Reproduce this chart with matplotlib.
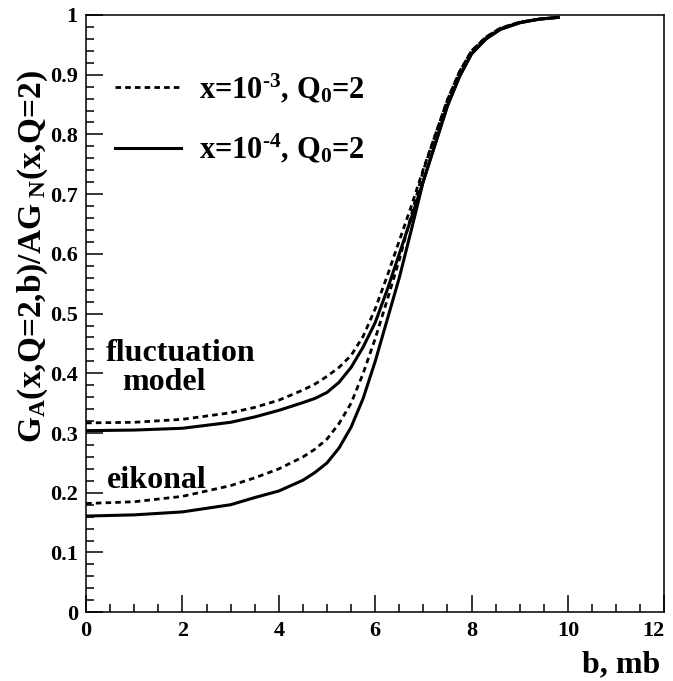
import matplotlib
matplotlib.use("Agg")
import matplotlib.pyplot as plt
from matplotlib.ticker import MultipleLocator

plt.rcParams['font.family'] = ['Liberation Serif', 'DejaVu Serif']
plt.rcParams['font.weight'] = 'bold'
plt.rcParams['mathtext.fontset'] = 'custom'
plt.rcParams['mathtext.rm'] = 'Liberation Serif:bold'
plt.rcParams['mathtext.it'] = 'Liberation Serif:bold'
plt.rcParams['mathtext.bf'] = 'Liberation Serif:bold'

# impact parameter grid
b = [0, 1, 2, 3, 3.5, 4, 4.5, 4.75, 5, 5.25, 5.5, 5.75, 6, 6.25, 6.5, 6.75,
     7, 7.25, 7.5, 7.75, 8, 8.3, 8.6, 9, 9.4, 9.8]

# fluctuation model
fluct_x3 = [0.317, 0.318, 0.323, 0.334, 0.343, 0.355, 0.372, 0.382, 0.395, 0.410, 0.430,
            0.462, 0.508, 0.563, 0.622, 0.680, 0.742, 0.800, 0.858, 0.905, 0.940,
            0.963, 0.978, 0.988, 0.993, 0.996]
fluct_x4 = [0.304, 0.305, 0.308, 0.318, 0.327, 0.338, 0.351, 0.358, 0.368, 0.385, 0.410,
            0.444, 0.485, 0.540, 0.600, 0.660, 0.722, 0.785, 0.848, 0.897, 0.935,
            0.960, 0.976, 0.987, 0.993, 0.996]

# eikonal
eik_x3 = [0.182, 0.185, 0.194, 0.212, 0.225, 0.240, 0.260, 0.273, 0.290, 0.316, 0.350,
          0.400, 0.458, 0.523, 0.590, 0.665, 0.740, 0.800, 0.858, 0.905, 0.940,
          0.963, 0.978, 0.988, 0.993, 0.996]
eik_x4 = [0.161, 0.163, 0.168, 0.180, 0.192, 0.203, 0.221, 0.234, 0.250, 0.275, 0.310,
          0.358, 0.420, 0.490, 0.560, 0.640, 0.722, 0.785, 0.848, 0.897, 0.935,
          0.960, 0.976, 0.987, 0.993, 0.996]

label_x3 = r'x=10$^{\text{-3}}$, Q$_0$=2'
label_x4 = r'x=10$^{\text{-4}}$, Q$_0$=2'

fig = plt.figure(figsize=(6.73, 6.81), dpi=100)
ax = fig.add_axes([0.128, 0.101, 0.859, 0.877])

dash = (0, (2.0, 1.5))
ax.plot(b, fluct_x3, color='black', lw=2.0, linestyle=dash, label=label_x3)
ax.plot(b, fluct_x4, color='black', lw=2.2, label=label_x4)
ax.plot(b, eik_x3, color='black', lw=2.0, linestyle=dash)
ax.plot(b, eik_x4, color='black', lw=2.2)

ax.set_xlim(0, 12)
ax.set_ylim(0, 1)
ax.xaxis.set_major_locator(MultipleLocator(2))
ax.xaxis.set_minor_locator(MultipleLocator(0.5))
ax.yaxis.set_major_locator(MultipleLocator(0.1))
ax.yaxis.set_minor_locator(MultipleLocator(0.02))
ax.yaxis.set_major_formatter(plt.FuncFormatter(lambda v, p: '0' if v == 0 else ('1' if v == 1 else f'{v:.1f}')))
ax.tick_params(which='both', direction='in', top=False, right=False, labelsize=16, width=1.1)
ax.tick_params(which='major', length=12, pad=6)
ax.tick_params(which='minor', length=6)
for s in ax.spines.values():
    s.set_linewidth(1.1)

ax.text(0.41, 0.434, 'fluctuation', fontsize=23, ha='left', va='center')
ax.text(0.75, 0.385, 'model', fontsize=23, ha='left', va='center')
ax.text(0.44, 0.221, 'eikonal', fontsize=23, ha='left', va='center')

ax.legend(loc='upper left', bbox_to_anchor=(0.05, 0.905), frameon=False, fontsize=22,
          handlelength=2.15, handletextpad=0.6, labelspacing=0.88, borderaxespad=0,
          borderpad=0)

fig.text(0.049, 0.624, r'G$_\mathrm{A}$(x,Q=2,b)/AG$_{\ \mathrm{N}}$(x,Q=2)', rotation=90,
         fontsize=24, ha='center', va='center')
fig.text(0.981, 0.013, 'b, mb', fontsize=23, ha='right', va='baseline')

# keep the "12" inside the figure
fig.canvas.draw()
for tick in ax.xaxis.get_major_ticks():
    if abs(tick.get_loc() - 12) < 1e-6:
        tick.label1.set_horizontalalignment('right')
        tick.label1.set_x(12.12)

fig.savefig('out.png', dpi=100)
